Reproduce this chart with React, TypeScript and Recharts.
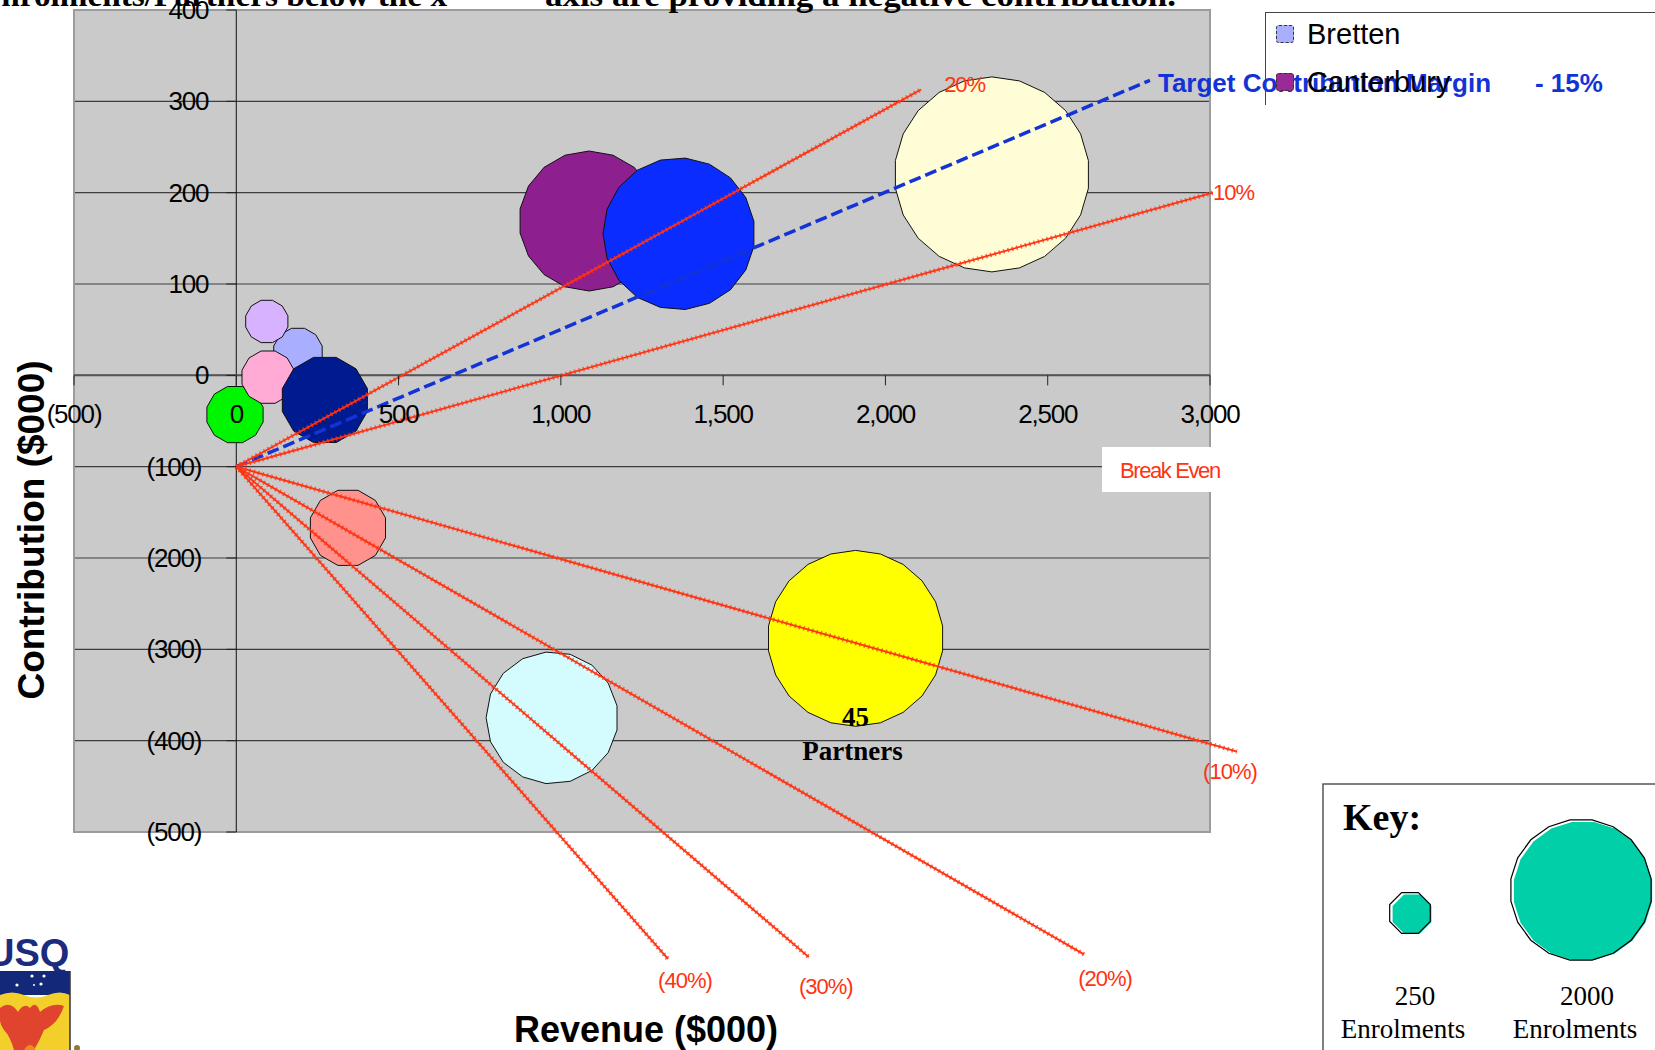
import React from 'react';
import {
  ScatterChart,
  Scatter,
  XAxis,
  YAxis,
  ZAxis,
  CartesianGrid,
  ReferenceLine,
  ReferenceDot,
  ReferenceArea,
  Legend,
} from 'recharts';

// ---- data -------------------------------------------------------------

const partners = [
  'Bretten', 'Partner B', 'Partner C', 'Partner D', 'Partner E', 'Partner F',
  'Partner G', '45 Partners', 'Canterbury', 'Partner H', 'Partner I',
];
const revenue = [190, 94, -4, 98, 273, 344, 973, 1908, 1087, 1364, 2328];
const contribution = [25, 59, -43, -2, -27, -167, -375, -288, 169, 155, 220];
const enrolments = [250, 190, 335, 290, 770, 600, 1730, 3070, 1945, 2290, 3770];

const legendNames = ['Bretten', 'Canterbury'];

const xTicks = [-500, 0, 500, 1000, 1500, 2000, 2500, 3000];
const yTicks = [-500, -400, -300, -200, -100, 0, 100, 200, 300, 400];

// margin lines all start at break-even (0 revenue, -100 contribution)
const breakEven = { x: 0, y: -100 };
const marginLabels = ['20%', '10%', '(10%)', '(20%)', '(30%)', '(40%)'];
const marginEndX = [2110, 3009, 3083, 2612, 1764, 1330];
const marginEndY = [313, 200, -412, -634, -637, -639];

const targetLabel = 'Target Contribution Margin';
const targetRate = '- 15%';
const targetEnd = { x: 2815, y: 323 };

const keySizes = ['250', '2000'];

// ---- styles / layout ---------------------------------------------------

const W = 1655;
const H = 1050;
const PLOT = { left: 74, top: 10, right: 1210, bottom: 832 };
const X_DOMAIN: [number, number] = [-500, 3000];
const Y_DOMAIN: [number, number] = [-500, 400];

const SANS = '"Liberation Sans", Arial, sans-serif';
const SERIF = '"Liberation Serif", "Times New Roman", serif';
const RED = '#FF3311';
const BLUE = '#1433D6';

const bubbleColors = [
  '#A9AEFF', '#D7B3FF', '#00F500', '#FFABD6', '#001A8F', '#FF928C',
  '#D4FCFF', '#FFFF00', '#8E1F8F', '#0A2CFF', '#FFFDD5',
];
const legendColors = ['#A9AEFF', '#9A2A96'];

// label offsets from each line end: [dx, dy, anchor]
const marginLabelPos: [number, number, string][] = [
  [23, -5, 'start'],
  [0, 0, 'start'],
  [-7, 20, 'middle'],
  [21, 24, 'middle'],
  [17, 29, 'middle'],
  [17, 22, 'middle'],
];

// pixel spot of the axis crossing, for the axis ticks only
const X0 = PLOT.left + ((0 - X_DOMAIN[0]) / (X_DOMAIN[1] - X_DOMAIN[0])) * (PLOT.right - PLOT.left);
const Y0 = PLOT.top + ((Y_DOMAIN[1] - 0) / (Y_DOMAIN[1] - Y_DOMAIN[0])) * (PLOT.bottom - PLOT.top);

const bubbles = partners.map((name, i) => ({
  name,
  idx: i,
  revenue: revenue[i],
  contribution: contribution[i],
  enrolments: enrolments[i],
}));

const fmt = (v: number) => {
  const s = Math.abs(v).toLocaleString('en-US');
  return v < 0 ? `(${s})` : s;
};

const polyPoints = (cx: number, cy: number, r: number, n: number) => {
  const pts: string[] = [];
  for (let i = 0; i < n; i++) {
    const a = ((i + 0.5) * 2 * Math.PI) / n;
    pts.push(`${(cx + r * Math.cos(a)).toFixed(1)},${(cy + r * Math.sin(a)).toFixed(1)}`);
  }
  return pts.join(' ');
};

// Excel-like polygon bubble
const Bubble = (props: any) => {
  const { cx, cy, payload } = props;
  if (cx == null || cy == null) return null;
  const r = props.size ? Math.sqrt(props.size / Math.PI) : (props.width || 0) / 2;
  const n = Math.max(12, Math.min(22, Math.round(r / 4)));
  const isGroup = payload && payload.name === '45 Partners';
  return (
    <g>
      <polygon
        points={polyPoints(cx, cy, r, n)}
        fill={bubbleColors[payload.idx]}
        stroke="#111"
        strokeWidth={1}
      />
      {isGroup && (
        <g fontFamily={SERIF} fontWeight="bold" fontSize={27} fill="#000" textAnchor="middle">
          <text x={cx} y={cy + r - 9} dominantBaseline="central">45</text>
          <text x={cx - 3} y={cy + r + 25} dominantBaseline="central">Partners</text>
        </g>
      )}
    </g>
  );
};

const XTick = (props: any) => {
  const { x, payload } = props;
  return (
    <g>
      <line x1={x} x2={x} y1={Y0} y2={Y0 + 10} stroke="#222" strokeWidth={1} />
      <text
        x={x}
        y={Y0 + 39}
        textAnchor="middle"
        dominantBaseline="central"
        fontFamily={SANS}
        fontSize={26}
        letterSpacing={-1.2}
        fill="#000"
      >
        {fmt(payload.value)}
      </text>
    </g>
  );
};

const YTick = (props: any) => {
  const { y, payload } = props;
  const v = payload.value;
  return (
    <g>
      <line x1={X0 - 10} x2={X0} y1={y} y2={y} stroke="#222" strokeWidth={1} />
      <text
        x={v < 0 ? X0 - 35 : X0 - 28}
        y={y}
        textAnchor="end"
        dominantBaseline="central"
        fontFamily={SANS}
        fontSize={26}
        letterSpacing={-1.2}
        fill="#000"
      >
        {fmt(v)}
      </text>
    </g>
  );
};

const EndLabel = (props: any) => {
  const vb = props.viewBox || {};
  const x = (vb.x || 0) + (vb.width || 0) / 2 + props.dx;
  const y = (vb.y || 0) + (vb.height || 0) / 2 + props.dy;
  return (
    <text
      x={x}
      y={y}
      textAnchor={props.anchor}
      dominantBaseline="central"
      fontFamily={SANS}
      fontSize={22}
      letterSpacing={-1}
      fill={RED}
    >
      {props.text}
    </text>
  );
};

const TargetLabel = (props: any) => {
  const vb = props.viewBox || {};
  const x = (vb.x || 0) + (vb.width || 0) / 2 + 8;
  const y = (vb.y || 0) + (vb.height || 0) / 2 + 3;
  return (
    <g fontFamily={SANS} fontWeight="bold" fontSize={26} fill={BLUE}>
      <text x={x} y={y} dominantBaseline="central">{targetLabel}</text>
      <text x={x + 377} y={y} dominantBaseline="central">{targetRate}</text>
    </g>
  );
};

const LegendBox = () => (
  <div style={{ position: 'relative', width: '100%', height: '100%', fontFamily: SANS }}>
    {legendNames.map((name, i) => (
      <div key={name} style={{ position: 'absolute', left: 10, top: 6 + i * 48, height: 30, display: 'flex', alignItems: 'center' }}>
        <span
          style={{
            display: 'inline-block',
            width: 16,
            height: 16,
            background: legendColors[i],
            border: '1px dashed #333',
            borderRadius: 3,
            marginRight: 13,
          }}
        />
        <span style={{ fontSize: 29, color: '#000', lineHeight: '30px' }}>{name}</span>
      </div>
    ))}
  </div>
);

const Overlay = () => (
  <svg width={W} height={H} style={{ position: 'absolute', left: 0, top: 0, pointerEvents: 'none' }}>
    {/* cut-off slide heading */}
    <g fontFamily={SERIF} fontWeight="bold" fontSize={31} fill="#000">
      <text x={-21} y={6} textLength={493} lengthAdjust="spacingAndGlyphs">
        Enrolments/Partners below the x –
      </text>
      <text x={545} y={6} textLength={631} lengthAdjust="spacingAndGlyphs">
        axis are providing a negative contribution.
      </text>
    </g>

    {/* axis titles */}
    <text
      x={31}
      y={530}
      transform="rotate(-90 31 530)"
      textAnchor="middle"
      dominantBaseline="central"
      fontFamily={SANS}
      fontWeight="bold"
      fontSize={37}
      fill="#000"
    >
      Contribution  ($000)
    </text>
    <text
      x={646}
      y={1029}
      textAnchor="middle"
      dominantBaseline="central"
      fontFamily={SANS}
      fontWeight="bold"
      fontSize={36}
      fill="#000"
    >
      Revenue ($000)
    </text>

    {/* break even tag */}
    <rect x={1102} y={447} width={111} height={45} fill="#fff" />
    <text x={1120} y={470} dominantBaseline="central" fontFamily={SANS} fontSize={22} letterSpacing={-1.4} fill={RED}>
      Break Even
    </text>

    {/* key box */}
    <path d="M1323 1050 V784 H1655" fill="none" stroke="#555" strokeWidth={1.5} />
    <text x={1343} y={830} fontFamily={SERIF} fontWeight="bold" fontSize={38} fill="#000">Key:</text>
    <polygon points={polyPoints(1412, 914, 21, 8)} fill="#00CFA8" />
    <polygon points={polyPoints(1410, 913, 22, 8)} fill="none" stroke="#000" strokeWidth={1.2} />
    <polygon points={polyPoints(1583, 891, 70, 20)} fill="#00CFA8" />
    <polygon points={polyPoints(1581, 890, 71, 20)} fill="none" stroke="#000" strokeWidth={1.2} />
    <g fontFamily={SERIF} fontSize={27} fill="#000" textAnchor="middle">
      <text x={1415} y={996} dominantBaseline="central">{keySizes[0]}</text>
      <text x={1403} y={1029} dominantBaseline="central">Enrolments</text>
      <text x={1587} y={996} dominantBaseline="central">{keySizes[1]}</text>
      <text x={1575} y={1029} dominantBaseline="central">Enrolments</text>
    </g>

    {/* university crest (rough) */}
    <text x={-13} y={966} fontFamily={SANS} fontWeight="bold" fontSize={38} fill="#1B2B7E">USQ</text>
    <rect x={0} y={971} width={70} height={24} fill="#14287A" />
    <g fill="#fff">
      <circle cx={32} cy={976} r={1.6} />
      <circle cx={44} cy={976} r={1.6} />
      <circle cx={17} cy={985} r={1.6} />
      <circle cx={34} cy={985} r={1} />
      <circle cx={41} cy={984} r={1.6} />
    </g>
    <path d="M0 995 Q12 990 24 995 T48 995 T70 995 V1050 H0 Z" fill="#F2CF2A" />
    <path
      d="M0 1008 Q10 1000 18 1012 Q24 1002 30 1008 Q36 1000 40 1012 Q52 1002 64 1006 Q58 1024 44 1030 Q40 1040 34 1050 H14 Q10 1036 4 1030 Q0 1024 0 1020 Z"
      fill="#E0442E"
    />
    <path d="M24 1050 Q30 1040 36 1050 Z" fill="#F08A20" />
    <line x1={70} y1={971} x2={70} y2={1050} stroke="#333" strokeWidth={1.5} />
    <circle cx={77} cy={1048} r={3} fill="#8A7A3A" />
  </svg>
);

export default function App() {
  return (
    <div style={{ position: 'absolute', left: 0, top: 0, width: W, height: H, background: '#fff', overflow: 'hidden' }}>
      <ScatterChart
        width={W}
        height={H}
        margin={{ top: PLOT.top, right: W - PLOT.right, bottom: H - PLOT.bottom - 1, left: PLOT.left - 1 }}
        style={{ position: 'absolute', left: 0, top: 0 }}
      >
        <CartesianGrid
          vertical={false}
          horizontal
          fill="#CACACA"
          fillOpacity={1}
          stroke="#3E3E3E"
          strokeWidth={1.2}
        />
        <ReferenceArea
          x1={X_DOMAIN[0]}
          x2={X_DOMAIN[1]}
          y1={Y_DOMAIN[0]}
          y2={Y_DOMAIN[1]}
          fill="none"
          stroke="#9C9C9C"
          strokeWidth={2}
          ifOverflow="visible"
        />
        <ReferenceLine x={0} stroke="#111" strokeWidth={1} />
        <ReferenceLine y={0} stroke="#555" strokeWidth={2} />

        <XAxis
          type="number"
          dataKey="revenue"
          domain={X_DOMAIN}
          ticks={xTicks}
          interval={0}
          height={1}
          axisLine={false}
          tickLine={false}
          zIndex={900}
          tick={(p: any) => <XTick {...p} />}
        />
        <YAxis
          type="number"
          dataKey="contribution"
          domain={Y_DOMAIN}
          ticks={yTicks}
          interval={0}
          width={1}
          axisLine={false}
          tickLine={false}
          zIndex={900}
          tick={(p: any) => <YTick {...p} />}
        />
        <ZAxis type="number" dataKey="enrolments" domain={[0, 4000]} range={[0, 31674]} />

        <Scatter
          data={bubbles}
          isAnimationActive={false}
          shape={(p: any) => <Bubble {...p} />}
        />

        {/* target 15% line */}
        <ReferenceLine
          segment={[{ x: breakEven.x, y: breakEven.y }, { x: targetEnd.x, y: targetEnd.y }]}
          stroke={BLUE}
          strokeWidth={3.5}
          strokeDasharray="12 5"
          ifOverflow="visible"
          zIndex={800}
        />
        <ReferenceDot
          x={targetEnd.x}
          y={targetEnd.y}
          r={0}
          fill="none"
          stroke="none"
          ifOverflow="visible"
          zIndex={950}
          label={<TargetLabel />}
        />

        {/* margin lines */}
        {marginLabels.map((label, i) => (
          <ReferenceLine
            key={'ml' + label}
            segment={[{ x: breakEven.x, y: breakEven.y }, { x: marginEndX[i], y: marginEndY[i] }]}
            stroke={RED}
            strokeWidth={1.8}
            ifOverflow="visible"
            zIndex={800}
          />
        ))}
        {marginLabels.map((label, i) => (
          <ReferenceLine
            key={'mt' + label}
            segment={[{ x: breakEven.x, y: breakEven.y }, { x: marginEndX[i], y: marginEndY[i] }]}
            stroke={RED}
            strokeWidth={4.5}
            strokeOpacity={0.75}
            strokeDasharray="1.5 3"
            ifOverflow="visible"
            zIndex={800}
          />
        ))}
        {marginLabels.map((label, i) => (
          <ReferenceDot
            key={'md' + label}
            x={marginEndX[i]}
            y={marginEndY[i]}
            r={0}
            fill="none"
            stroke="none"
            ifOverflow="visible"
            zIndex={950}
            label={
              <EndLabel
                text={label}
                dx={marginLabelPos[i][0]}
                dy={marginLabelPos[i][1]}
                anchor={marginLabelPos[i][2]}
              />
            }
          />
        ))}

        <Legend
          layout="vertical"
          align="center"
          verticalAlign="middle"
          content={() => <LegendBox />}
          wrapperStyle={{
            left: 1265,
            top: 12,
            width: 400,
            height: 93,
            borderTop: '1.5px solid #444',
            borderLeft: '1.5px solid #444',
            boxSizing: 'border-box',
          }}
        />
      </ScatterChart>
      <Overlay />
    </div>
  );
}
